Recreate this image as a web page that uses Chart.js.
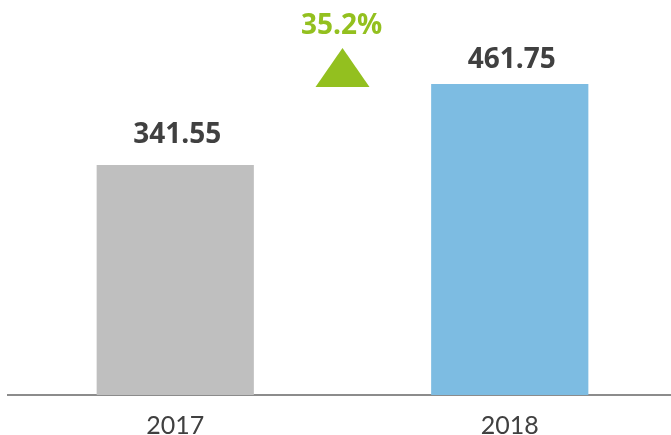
<!DOCTYPE html>
<html>
<head>
<meta charset="utf-8">
<script src="https://cdn.jsdelivr.net/npm/chart.js@4"></script>
<style>
  html, body { margin: 0; padding: 0; background: #fff; overflow: hidden; }
  #wrap { width: 677px; height: 435px; }
</style>
</head>
<body>
<div id="wrap"><canvas id="chart"></canvas></div>
<script>
// Datos del gráfico
const years = ["2017", "2018"]
const values = [341.55, 461.75]
const barColors = ["#BFBFBF", "#7DBCE2"]

// Colores y fuentes
const textColor = "#404040"
const green = "#93C01F"
const tickFont = "Lato, 'Open Sans', sans-serif"
const labelFont = "'Open Sans', Lato, sans-serif"

// Variación porcentual entre los dos años
const growth = ((values[1] - values[0]) / values[0]) * 100

// Plugin para etiquetas de valor, triángulo y porcentaje
const annotations = {
  id: "annotations",
  afterDatasetsDraw(chart) {
    const ctx = chart.ctx
    const meta = chart.getDatasetMeta(0)
    const gaps = [22, 16]

    ctx.save()
    ctx.textAlign = "center"
    ctx.textBaseline = "alphabetic"
    ctx.font = "bold 28px " + labelFont
    ctx.fillStyle = textColor
    meta.data.forEach((bar, i) => {
      ctx.fillText(values[i].toFixed(2), bar.x + 2, bar.y - gaps[i])
    })

    // Triángulo verde entre las barras
    const midX = (meta.data[0].x + meta.data[1].x) / 2
    const baseY = meta.data[1].y + 3
    ctx.fillStyle = green
    ctx.beginPath()
    ctx.moveTo(midX - 27, baseY)
    ctx.lineTo(midX + 27, baseY)
    ctx.lineTo(midX, baseY - 39)
    ctx.closePath()
    ctx.fill()

    ctx.fillText(growth.toFixed(1) + "%", midX - 1, baseY - 53)
    ctx.restore()
  }
}

new Chart(document.getElementById("chart"), {
  type: "bar",
  data: {
    labels: years,
    datasets: [
      {
        data: values,
        backgroundColor: barColors,
        borderWidth: 0,
        barPercentage: 0.47,
        categoryPercentage: 1,
      },
    ],
  },
  options: {
    responsive: true,
    maintainAspectRatio: false,
    animation: false,
    layout: { padding: { left: 8, right: 0, top: 0, bottom: 0 } },
    scales: {
      y: {
        display: false,
        min: 0,
        max: 586.5,
      },
      x: {
        grid: { display: false, drawTicks: false },
        border: { display: true, color: "#8C8C8C", width: 2 },
        ticks: {
          color: textColor,
          font: { family: tickFont, size: 25 },
          padding: 16,
        },
        afterFit: (scale) => {
          scale.height = 40
        },
      },
    },
    plugins: {
      legend: { display: false },
      tooltip: { enabled: false },
    },
  },
  plugins: [annotations],
})
</script>
</body>
</html>
